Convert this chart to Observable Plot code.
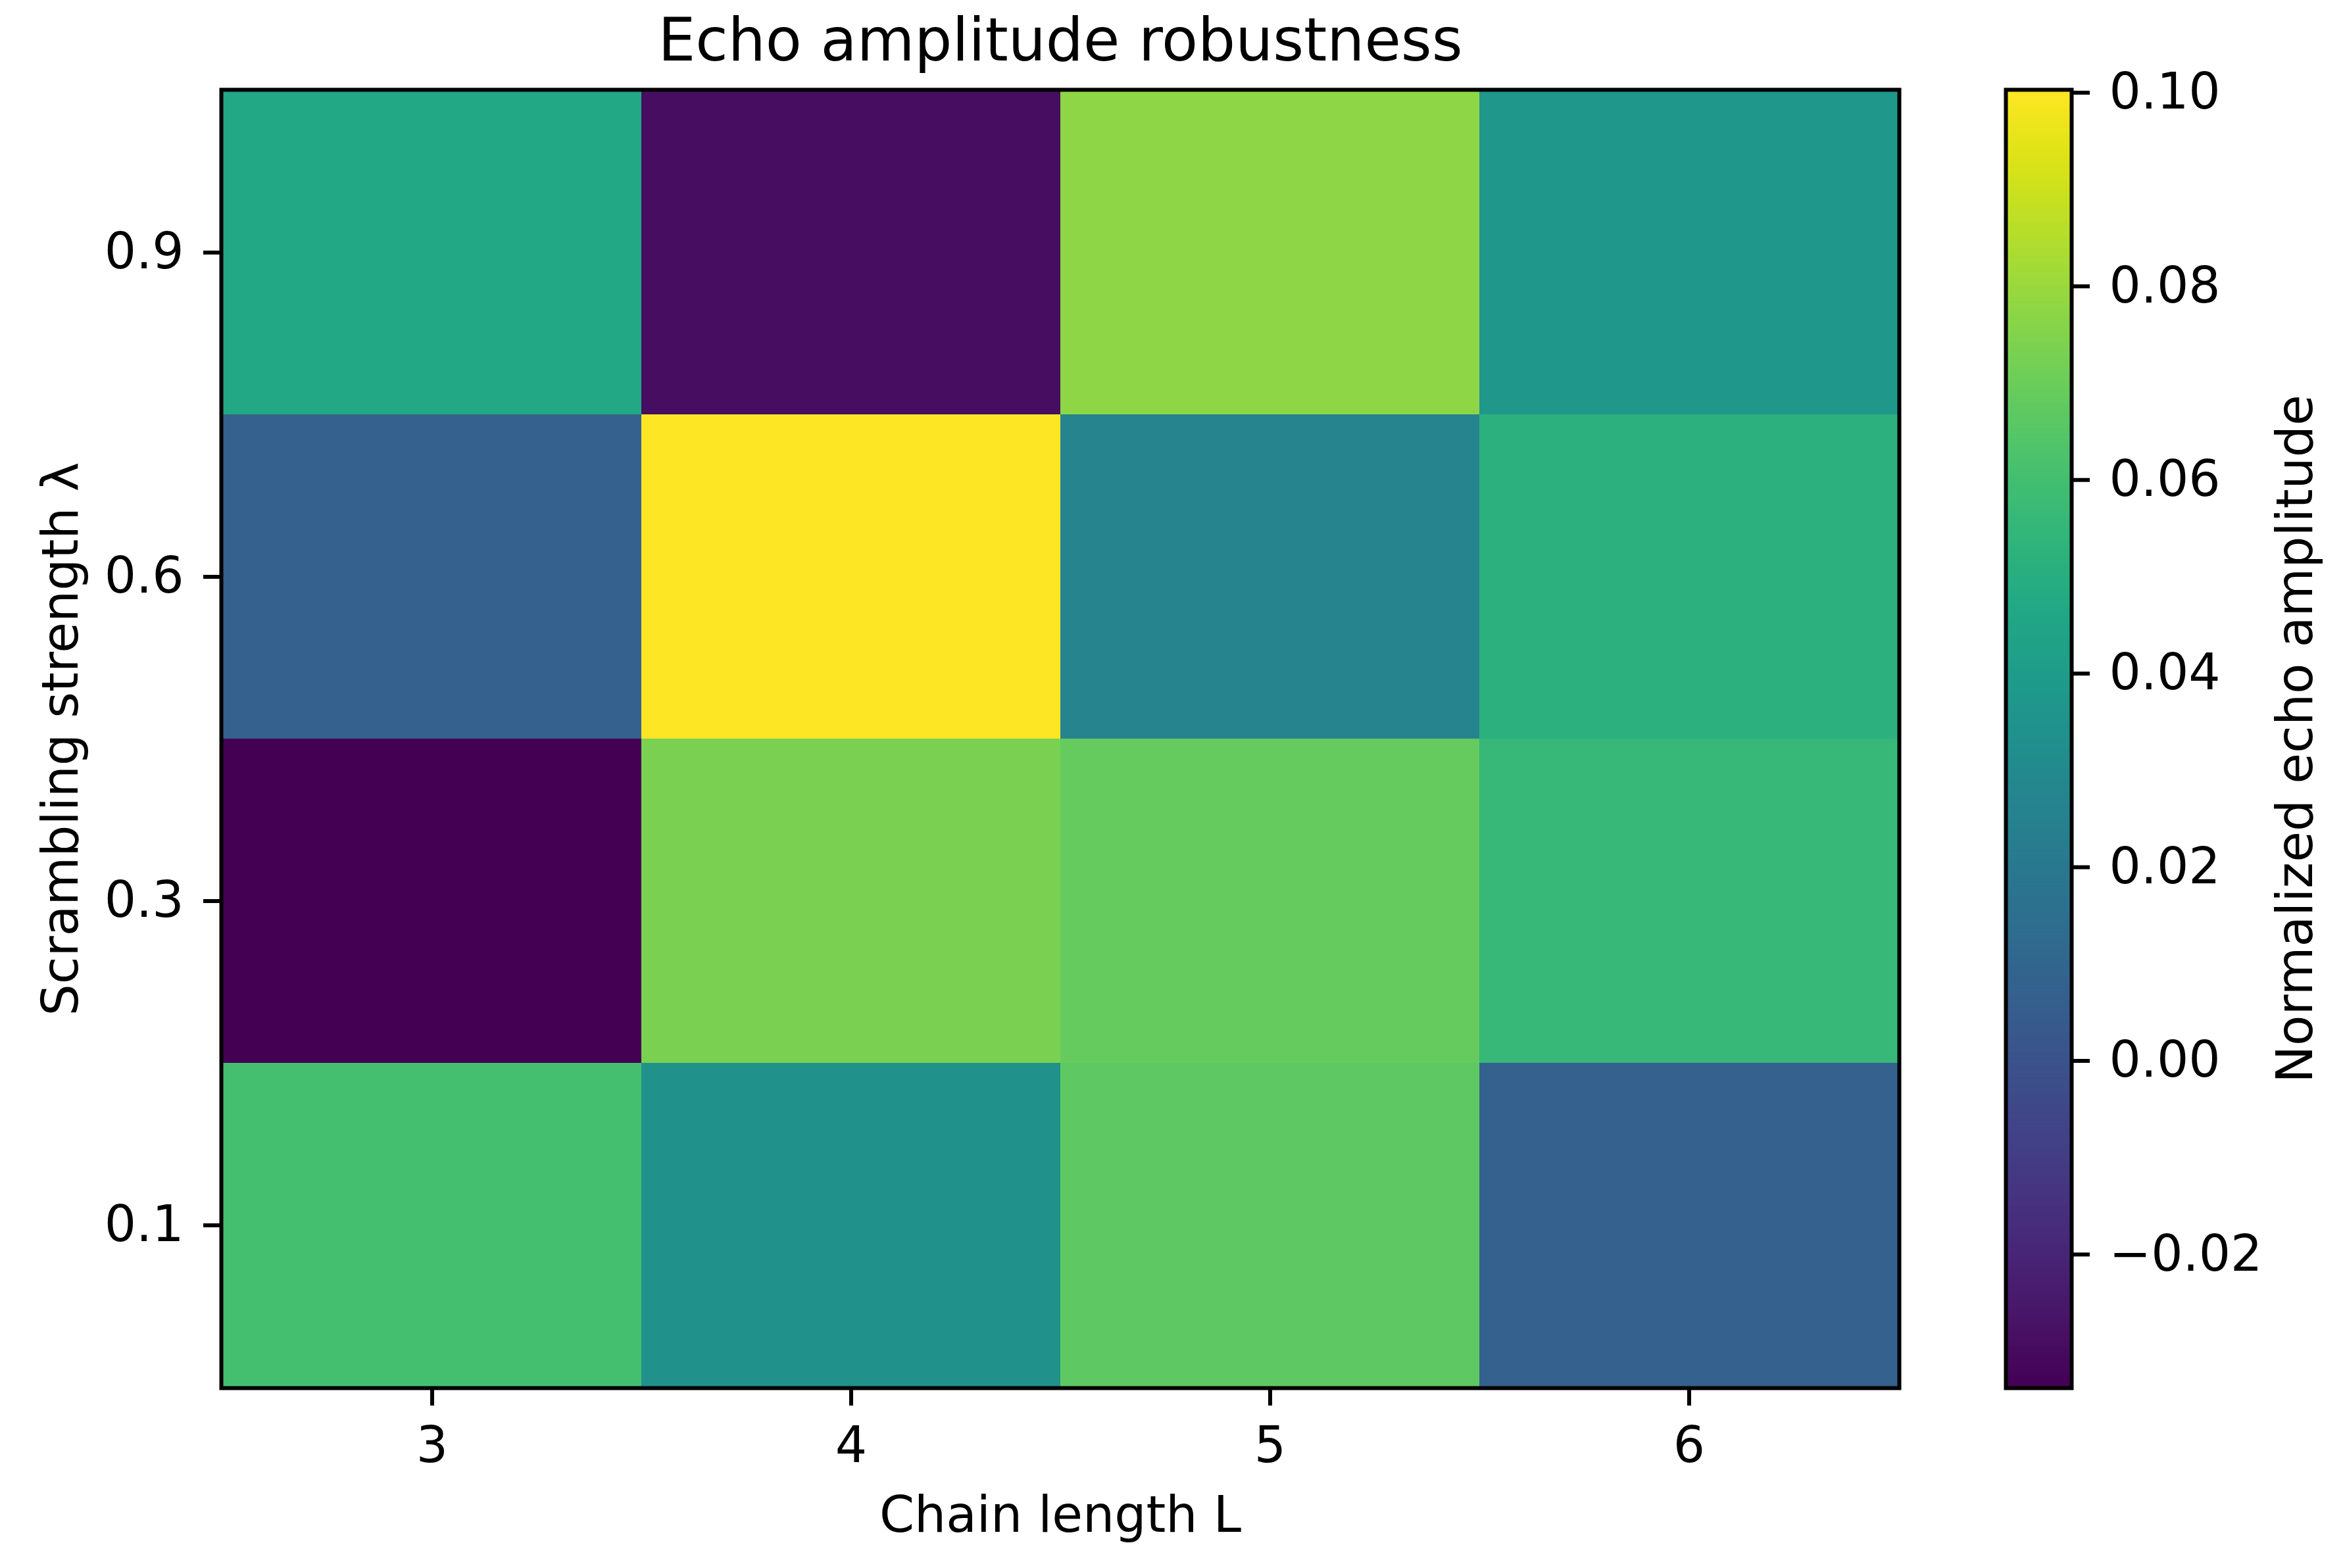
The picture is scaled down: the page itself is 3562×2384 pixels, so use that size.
<!DOCTYPE html>
<html>
<head>
<meta charset="utf-8">
<script src="https://cdn.jsdelivr.net/npm/d3@7"></script>
<script src="https://cdn.jsdelivr.net/npm/@observablehq/plot@0.6"></script>
<style>
  html, body { margin: 0; padding: 0; background: white; }
  #fig { position: relative; width: 3562px; height: 2384px; background: white; overflow: hidden; }
  #fig svg { position: absolute; top: 0; }
</style>
</head>
<body>
<div id="fig"></div>
<script>
// ---- data ----
const chainLengths = [3, 4, 5, 6];
const lambdas = [0.9, 0.6, 0.3, 0.1];           // top to bottom
const ampLambda09 = [0.0467, -0.0295, 0.0775, 0.0374];
const ampLambda06 = [0.0073, 0.1003, 0.0267, 0.0521];
const ampLambda03 = [-0.0338, 0.0735, 0.0688, 0.0561];
const ampLambda01 = [0.0601, 0.0334, 0.0668, 0.0073];
const colorbarTicks = [-0.02, 0.00, 0.02, 0.04, 0.06, 0.08, 0.10];
const titleText = "Echo amplitude robustness";
const xLabel = "Chain length L";
const yLabel = "Scrambling strength λ";
const cbLabel = "Normalized echo amplitude";

const rows = [ampLambda09, ampLambda06, ampLambda03, ampLambda01];
const cells = lambdas.flatMap((lam, i) => chainLengths.map((L, j) => ({L, lambda: lam, value: rows[i][j]})));
const allVals = rows.flat();
const colorMin = d3.min(allVals), colorMax = d3.max(allVals);

const baseStyle = {fontFamily: "DejaVu Sans", fontSize: "76px", background: "white", color: "black", overflow: "visible"};
const colorScale = {type: "linear", scheme: "viridis", domain: [colorMin, colorMax]};

const main = Plot.plot({
  width: 3000, height: 2384,
  marginLeft: 336, marginRight: 113, marginTop: 136, marginBottom: 274,
  style: baseStyle,
  x: {type: "band", domain: chainLengths, padding: 0},
  y: {type: "band", domain: lambdas, padding: 0},
  color: colorScale,
  marks: [
    Plot.cell(cells, {x: "L", y: "lambda", fill: "value", inset: 0, shapeRendering: "crispEdges"}),
    Plot.frame({stroke: "black", strokeWidth: 6}),
    Plot.axisX({tickSize: 27, tickPadding: 32, strokeWidth: 6, label: null}),
    Plot.axisY({tickSize: 27, tickPadding: 30, strokeWidth: 6, label: null}),
    Plot.text([titleText], {text: d => d, frameAnchor: "top", dy: -108, lineAnchor: "top", textAnchor: "middle", fontSize: 90}),
    Plot.text([xLabel], {text: d => d, frameAnchor: "bottom", dy: 165, lineAnchor: "top", textAnchor: "middle"}),
    Plot.text([yLabel], {text: d => d, frameAnchor: "left", dx: -243, rotate: -90, lineAnchor: "middle", textAnchor: "middle"})
  ]
});
main.style.left = "0px";

const cbar = Plot.plot({
  width: 562, height: 2384,
  marginLeft: 49, marginRight: 413, marginTop: 136, marginBottom: 274,
  style: baseStyle,
  x: {domain: [0, 1], axis: null},
  y: {domain: [colorMin, colorMax]},
  color: colorScale,
  marks: [
    Plot.raster({fill: (x, y) => y, x1: 0, x2: 1, y1: colorMin, y2: colorMax, width: 1, height: 600, imageRendering: "auto"}),
    Plot.frame({stroke: "black", strokeWidth: 6}),
    Plot.axisY(colorbarTicks, {anchor: "right", tickSize: 27, tickPadding: 30, strokeWidth: 6, tickFormat: d3.format(".2f"), label: null}),
    Plot.text([cbLabel], {text: d => d, frameAnchor: "right", dx: 341, rotate: -90, lineAnchor: "middle", textAnchor: "middle"})
  ]
});
cbar.style.left = "3000px";

const fig = document.getElementById("fig");
fig.appendChild(main);
fig.appendChild(cbar);
</script>
</body>
</html>
